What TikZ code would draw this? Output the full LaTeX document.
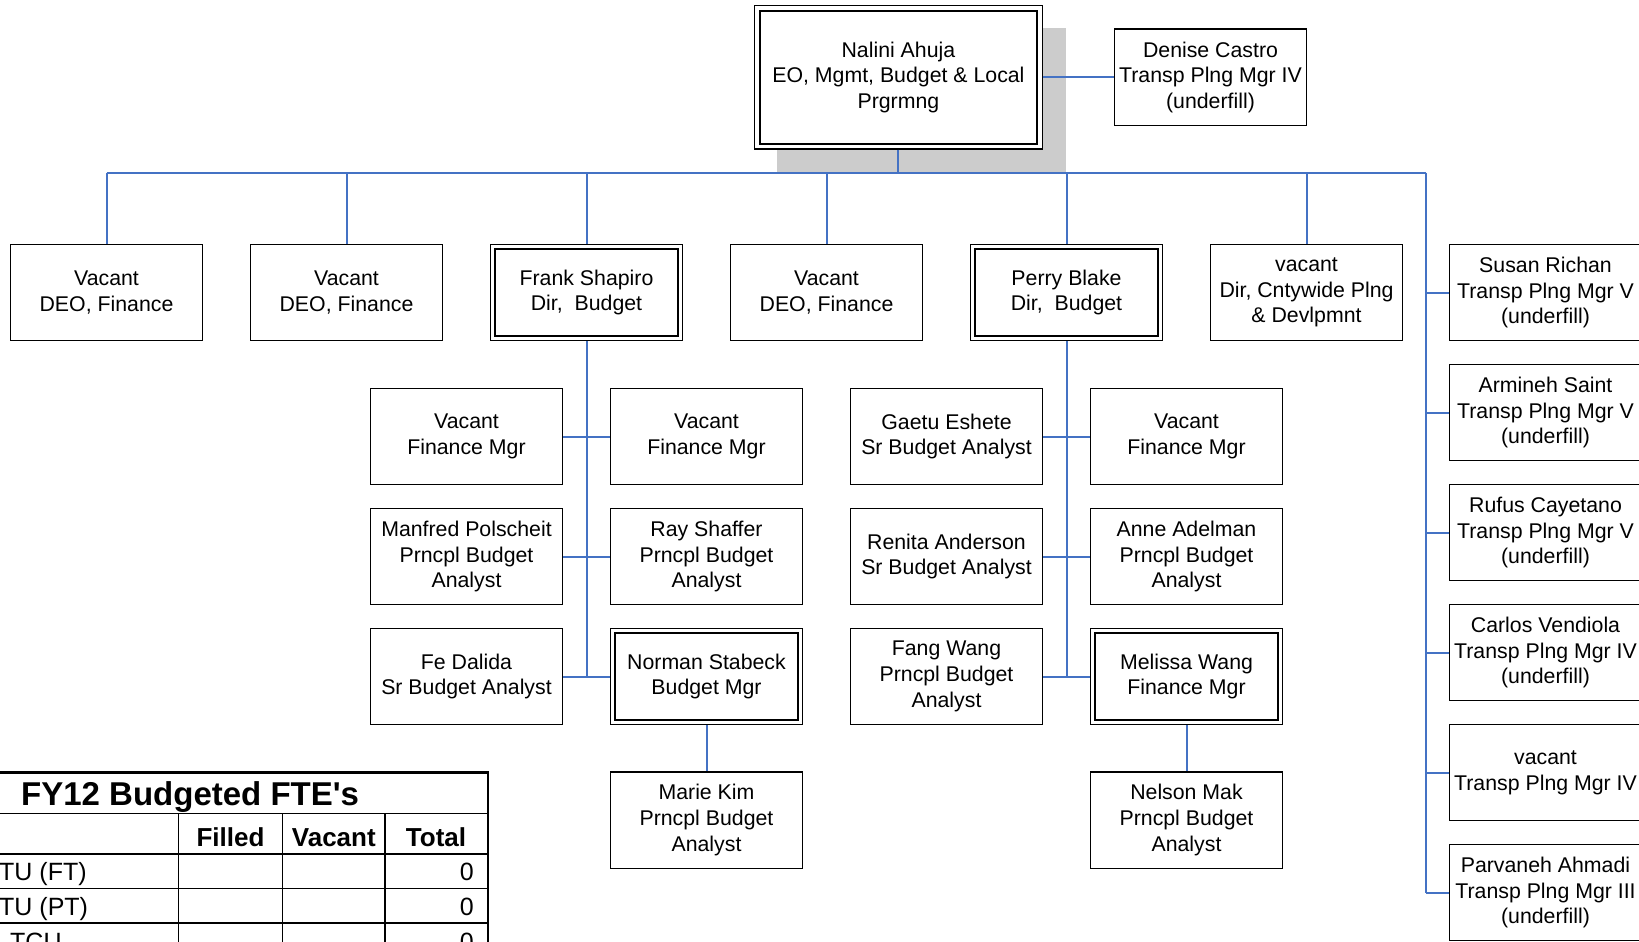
\documentclass[tikz,border=0pt]{standalone}
\usepackage{fontspec}
\setmainfont{Liberation Sans}
\usetikzlibrary{backgrounds}
\definecolor{connblue}{RGB}{68,114,196}
\definecolor{shadowgray}{RGB}{204,204,204}
\begin{document}
\begin{tikzpicture}[x=1pt,y=-1pt,
  box/.style={draw=black, line width=1.3pt, fill=white, minimum width=192.3pt, minimum height=96.3pt, inner sep=0pt, align=center, font=\fontsize{21.3pt}{25.7pt}\selectfont},
  bigbox/.style={box, minimum width=287.5pt, minimum height=143.2pt},
  innerframe/.style={draw=black, line width=2pt},
  link/.style={draw=connblue, line width=2pt},
  tthin/.style={line width=1.3pt},
  tmid/.style={line width=2pt},
  tthick/.style={line width=2.5pt},
  ttitle/.style={font=\fontsize{33pt}{36pt}\selectfont\bfseries, inner sep=0pt, anchor=base west},
  thead/.style={font=\fontsize{26pt}{30pt}\selectfont\bfseries, inner sep=0pt, anchor=base},
  tlabel/.style={font=\fontsize{25pt}{29pt}\selectfont, inner sep=0pt, anchor=base west},
  tnum/.style={font=\fontsize{25pt}{29pt}\selectfont, inner sep=0pt, anchor=base east},
]
\useasboundingbox (0,0) rectangle (1639,942);
\clip (0,0) rectangle (1639,942);

% top
\node[bigbox] (nal) at (898.4,77.3) {Nalini Ahuja\\EO, Mgmt, Budget \& Local\\Prgrmng};
\draw[innerframe] ([xshift=5.5pt,yshift=-5.5pt]nal.north west) rectangle ([xshift=-5.5pt,yshift=5.5pt]nal.south east);
\begin{pgfonlayer}{background}
\fill[shadowgray] ([xshift=23pt,yshift=-23pt]nal.north west) rectangle ([xshift=23pt,yshift=-23pt]nal.south east);
\end{pgfonlayer}
\node[box] (den) at (1210.5,77.3) {Denise Castro\\Transp Plng Mgr IV\\(underfill)};

% top row
\node[box] (t1) at (106.5,292.5) {Vacant\\DEO, Finance};
\node[box] (t2) at (346.5,292.5) {Vacant\\DEO, Finance};
\node[box] (fs) at (586.5,292.5) {Frank Shapiro\\Dir, \ Budget};
\node[box] (t4) at (826.5,292.5) {Vacant\\DEO, Finance};
\node[box] (pb) at (1066.5,292.5) {Perry Blake\\Dir, \ Budget};
\node[box] (t6) at (1306.5,292.5) {vacant\\Dir, Cntywide Plng\\\& Devlpmnt};
\foreach \n in {fs,pb}{
  \draw[innerframe] ([xshift=5pt,yshift=-5pt]\n.north west) rectangle ([xshift=-5pt,yshift=5pt]\n.south east);
}

% Frank's group
\node[box] (f1l) at (466.5,436.5) {Vacant\\Finance Mgr};
\node[box] (f1r) at (706.5,436.5) {Vacant\\Finance Mgr};
\node[box] (f2l) at (466.5,556.5) {Manfred Polscheit\\Prncpl Budget\\Analyst};
\node[box] (f2r) at (706.5,556.5) {Ray Shaffer\\Prncpl Budget\\Analyst};
\node[box] (f3l) at (466.5,676.5) {Fe Dalida\\Sr Budget Analyst};
\node[box] (f3r) at (706.5,676.5) {Norman Stabeck\\Budget Mgr};
\node[box] (f4) at (706.5,820) {Marie Kim\\Prncpl Budget\\Analyst};

% Perry's group
\node[box] (p1l) at (946.5,436.5) {Gaetu Eshete\\Sr Budget Analyst};
\node[box] (p1r) at (1186.5,436.5) {Vacant\\Finance Mgr};
\node[box] (p2l) at (946.5,556.5) {Renita Anderson\\Sr Budget Analyst};
\node[box] (p2r) at (1186.5,556.5) {Anne Adelman\\Prncpl Budget\\Analyst};
\node[box] (p3l) at (946.5,676.5) {Fang Wang\\Prncpl Budget\\Analyst};
\node[box] (p3r) at (1186.5,676.5) {Melissa Wang\\Finance Mgr};
\node[box] (p4) at (1186.5,820) {Nelson Mak\\Prncpl Budget\\Analyst};
\foreach \n in {f3r,p3r}{
  \draw[innerframe] ([xshift=5pt,yshift=-5pt]\n.north west) rectangle ([xshift=-5pt,yshift=5pt]\n.south east);
}

% right column
\node[box] (r1) at (1545.5,292.5) {Susan Richan\\Transp Plng Mgr V\\(underfill)};
\node[box] (r2) at (1545.5,412.5) {Armineh Saint\\Transp Plng Mgr V\\(underfill)};
\node[box] (r3) at (1545.5,532.5) {Rufus Cayetano\\Transp Plng Mgr V\\(underfill)};
\node[box] (r4) at (1545.5,652.5) {Carlos Vendiola\\Transp Plng Mgr IV\\(underfill)};
\node[box] (r5) at (1545.5,772.5) {vacant\\Transp Plng Mgr IV};
\node[box] (r6) at (1545.5,892.5) {Parvaneh Ahmadi\\Transp Plng Mgr III\\(underfill)};

% connectors
\coordinate (busL) at (106.5,172.5);
\coordinate (busR) at (1425.7,172.5);
\draw[link] (nal.east) -- (nal.east -| den.west);
\draw[link] (nal.south) -- (nal.south |- busL);
\draw[link] (busL) -- (busR);
\foreach \n in {t1,t2,fs,t4,pb,t6}{
  \draw[link] (\n.north) -- (\n.north |- busL);
}
\draw[link] (busR) -- (busR |- r6.west);
\foreach \n in {r1,r2,r3,r4,r5,r6}{
  \draw[link] (busR |- \n.west) -- (\n.west);
}
\draw[link] (fs.south) -- (fs.south |- f3l.east);
\draw[link] (pb.south) -- (pb.south |- p3l.east);
\foreach \a/\b in {f1l/f1r,f2l/f2r,f3l/f3r,p1l/p1r,p2l/p2r,p3l/p3r}{
  \draw[link] (\a.east) -- (\b.west);
}
\draw[link] (f3r.south) -- (f4.north);
\draw[link] (p3r.south) -- (p4.north);

% table
\draw[tthin] (0,813.3) -- (488,813.3);
\draw[tthin] (0,888.3) -- (488,888.3);
\draw[tmid] (0,854.3) -- (488,854.3);
\draw[tmid] (0,923.3) -- (488,923.3);
\foreach \x in {178.3,282.7,385}{
  \draw[tthin] (\x,813.3) -- (\x,942);
}
\draw[tthick] (0,772.3) -- (488,772.3) -- (488,942);
\node[ttitle] (ttl) at (21,805) {FY12 Budgeted FTE\textquotesingle s};
\node[thead] (hf) at (230.5,846) {Filled};
\node[thead] (hv) at (333.8,846) {Vacant};
\node[thead] (ht) at (436,846) {Total};
\node[tlabel] (l1) at (-1,880) {TU (FT)};
\node[tlabel] (l2) at (-1,915) {TU (PT)};
\node[tlabel] (l3) at (10,950) {TCU};
\node[tnum] (n1) at (474,880) {0};
\node[tnum] (n2) at (474,915) {0};
\node[tnum] (n3) at (474,950) {0};
\end{tikzpicture}
\end{document}
